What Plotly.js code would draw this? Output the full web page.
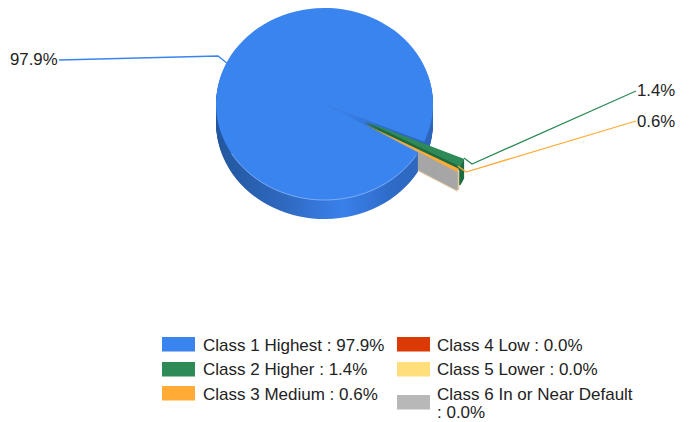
<!DOCTYPE html>
<html><head><meta charset="utf-8">
<script src="https://cdn.plot.ly/plotly-3.0.1.min.js"></script>
<style>html,body{margin:0;padding:0;background:#fff}#c{width:691px;height:422px}</style>
</head><body><div id="c"></div>
<script>
const categories = ["Class 1 Highest","Class 2 Higher","Class 3 Medium","Class 4 Low","Class 5 Lower","Class 6 In or Near Default"];
const shares = [97.9,1.4,0.6,0,0,0];
const colors = ["#3A84F0","#2E8B57","#FFAB36","#DC3A05","#FFDE7B","#B8B8B8"];
const wallColors = ["#2F6CC6","#1F6B41","#A6A6A6","#A52B04","#C9AF60","#8A8A8A"];
const pulls = [0,0.41,0.41,0,0,0];
const FONT = "Liberation Sans, Arial, sans-serif", INK = "#222222";
const W = 691, H = 422, RX = 108.5, RATIO = 0.885, CX = 324.5, CY = 104, DEPTH = 19;

const pieBase = {type:"pie", labels:categories, values:shares, sort:false, direction:"clockwise",
  rotation:120.4, pull:pulls, textinfo:"none", hoverinfo:"skip", showlegend:false,
  domain:{x:[0,1], y:[0.5-RX*(1+0.41)/H,0.5+RX*(1+0.41)/H]}};
const traces = [];
for(let k=DEPTH;k>=1;k--){
  traces.push(Object.assign({},pieBase,{marker:{colors:wallColors,
    line:{color:"#E6C9A2",width:[0,0,k===DEPTH?1.2:0,0,0,0]}}}));
}
traces.push(Object.assign({},pieBase,{marker:{colors:colors,line:{width:0}}}));

// callouts
const leaders = [
 {i:0, pts:[[59,60],[218,56],[228,64]], label:[8,59]},
 {i:1, pts:[[636,91],[472,164],[464,158]], label:[635,91]},
 {i:2, pts:[[636,121],[466,172],[458,166]], label:[635,121]}];
const shapes = [], annotations = [];
const textNote = (x,y,t,size)=>annotations.push({xref:"paper",yref:"paper",x:x/W,y:1-y/H,xanchor:"left",yanchor:"middle",
    align:"left",showarrow:false,borderpad:0,text:t,font:{family:FONT,size:size,color:INK}});
leaders.forEach(l=>{
  shapes.push({type:"path",xref:"paper",yref:"paper",layer:"above",
    path:l.pts.map((p,j)=>(j?"L":"M")+(p[0]/W)+","+(1-p[1]/H)).join(" "),
    line:{color:colors[l.i],width:1.3}});
  textNote(l.label[0]+1,l.label[1],shares[l.i].toFixed(1)+"%",16.8);
});
// end face of the exploded wedge
shapes.push({type:"line",xref:"paper",yref:"paper",layer:"above",x0:458.5/W,x1:458.5/W,y0:1-170/H,y1:1-190/H,line:{color:"#E6C9A2",width:1.5}});
// soft highlight where the top of the pie meets its front wall
const rim = [];
for(let a=122;a<=240;a+=3){
  const t=a*Math.PI/180;
  rim.push((rim.length?"L":"M")+((CX+RX*Math.sin(t))/W)+","+(1-(CY-RX*RATIO*Math.cos(t))/H));
}
shapes.push({type:"path",xref:"paper",yref:"paper",layer:"above",path:rim.join(" "),line:{color:"#8DB8F7",width:0.8}});
// legend
const legendSlots = [[162,337,202,345],[162,362,202,369],[162,386,202,394],[397,337,436,345],[397,362,436,369],[397,395,436,394]];
categories.forEach((c,i)=>{
  const s = legendSlots[i];
  shapes.push({type:"rect",xref:"paper",yref:"paper",layer:"above",x0:s[0]/W,x1:(s[0]+33)/W,
    y0:1-s[1]/H,y1:1-(s[1]+14.5)/H,fillcolor:colors[i],line:{width:0}});
  const value = ": "+shares[i].toFixed(1)+"%";
  if(i===5){ textNote(s[2],s[3],c,17); textNote(s[2],412,value,17); }
  else textNote(s[2],s[3],c+" "+value,17);
});

Plotly.newPlot("c",traces,{width:W,height:H,margin:{l:0,r:0,t:0,b:0},paper_bgcolor:"#fff",plot_bgcolor:"#fff",
  shapes:shapes,annotations:annotations},{displayModeBar:false,staticPlot:true}).then(gd=>{
  const svg = gd.querySelector("svg.main-svg");
  const NS = "http://www.w3.org/2000/svg";
  let defs = svg.querySelector("defs");
  const g = document.createElementNS(NS,"linearGradient");
  g.setAttribute("id","wallGrad"); g.setAttribute("gradientUnits","userSpaceOnUse");
  g.setAttribute("x1",W/2-RX); g.setAttribute("x2",W/2+RX); g.setAttribute("y1",0); g.setAttribute("y2",0);
  [[0,"#23569E"],[0.3,"#2E68BE"],[0.58,"#3A80EA"],[0.8,"#2F6CC8"],[1,"#2C64B8"]].forEach(a=>{
    const st=document.createElementNS(NS,"stop"); st.setAttribute("offset",a[0]); st.setAttribute("stop-color",a[1]); g.appendChild(st);});
  defs.appendChild(g);
  const layers = gd.querySelectorAll(".pielayer .trace");
  layers.forEach((el,n)=>{
    const k = DEPTH-n;
    el.setAttribute("transform",`translate(${CX},${CY+k}) scale(1,${RATIO}) translate(${-W/2},${-H/2})`);
    if(k>0){ const p = el.querySelector(".slice path.surface"); if(p) p.style.fill="url(#wallGrad)"; }
  });
});
</script></body></html>
